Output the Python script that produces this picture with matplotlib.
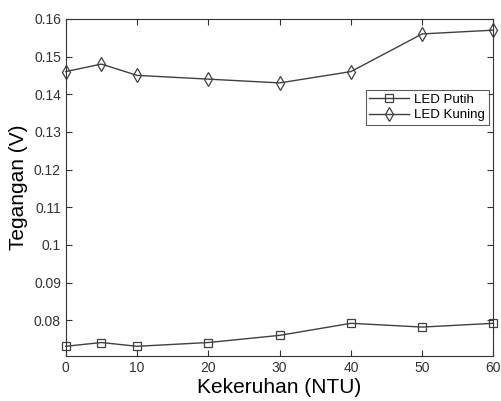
import matplotlib
matplotlib.use('Agg')
import matplotlib.pyplot as plt
from matplotlib.ticker import FuncFormatter

ntu = [0, 5, 10, 20, 30, 40, 50, 60]
led_putih = [0.0731, 0.0741, 0.0731, 0.0741, 0.0760, 0.0792, 0.0782, 0.0792]
led_kuning = [0.146, 0.148, 0.145, 0.144, 0.143, 0.146, 0.156, 0.157]
y_ticks = [0.08, 0.09, 0.10, 0.11, 0.12, 0.13, 0.14, 0.15, 0.16]
x_ticks = [0, 10, 20, 30, 40, 50, 60]

plt.rcParams['font.family'] = ['Liberation Sans', 'DejaVu Sans']

fig = plt.figure(figsize=(5.02, 4.01), dpi=100)
ax = fig.add_axes([0.131, 0.112, 0.852, 0.841])

line_color = '#404040'
ax.plot(ntu, led_putih, color=line_color, lw=1, marker='s', markersize=6,
        markerfacecolor='none', markeredgecolor=line_color, markeredgewidth=0.9,
        label='LED Putih', clip_on=False)
ax.plot(ntu, led_kuning, color=line_color, lw=1, marker='d', markersize=7,
        markerfacecolor='none', markeredgecolor=line_color, markeredgewidth=0.9,
        label='LED Kuning', clip_on=False)

ax.set_xlim(0, 60)
ax.set_ylim(0.0705, 0.16)
ax.set_xticks(x_ticks)
ax.set_yticks(y_ticks)
ax.yaxis.set_major_formatter(FuncFormatter(lambda v, p: '%g' % round(v, 3)))
ax.tick_params(direction='in', top=True, right=True, labelsize=10,
               length=4, width=0.8, colors='#333333', labelcolor='#333333')
for s in ax.spines.values():
    s.set_color('#333333')
    s.set_linewidth(0.8)

ax.set_xlabel('Kekeruhan (NTU)', fontsize=15, labelpad=2)
ax.set_ylabel('Tegangan (V)', fontsize=15, labelpad=4)

leg = ax.legend(loc='upper right', bbox_to_anchor=(0.99, 0.79), fontsize=9.5,
                frameon=True, fancybox=False, handlelength=3.0, borderpad=0.3,
                labelspacing=0.25, handletextpad=0.4, borderaxespad=0)
leg.get_frame().set_edgecolor('#333333')
leg.get_frame().set_linewidth(0.8)

fig.savefig('out.png', dpi=100)
